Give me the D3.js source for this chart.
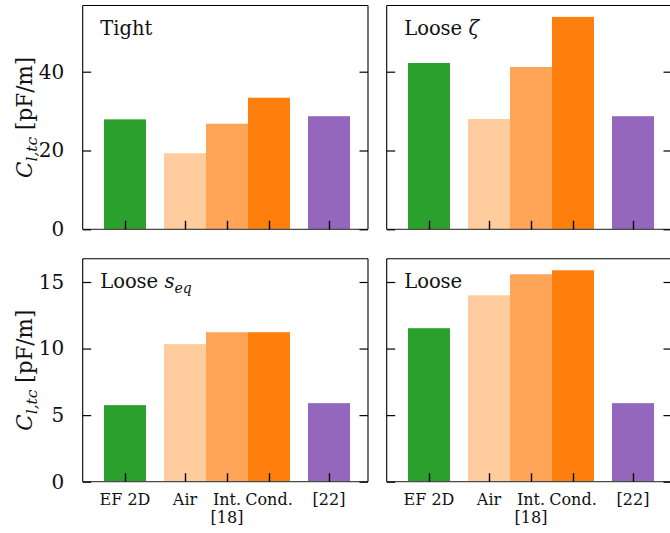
<!DOCTYPE html>
<html><head><meta charset="utf-8">
<script src="https://cdn.jsdelivr.net/npm/d3@7"></script>
<style>
html,body{margin:0;padding:0;background:#fff;}
svg{display:block;}
text{font-family:"DejaVu Serif",serif;fill:#111;}
</style></head>
<body><svg id="chart" width="670" height="533"></svg>
<script>
// ---- data ----
const categories = ["EF 2D", "Air", "Int.|[18]", "Cond.", "[22]"];
const groupOf = [0, 1, 1, 1, 2];          // bar groups (EF 2D | Air, Int., Cond. | [22])
const tight      = [27.9, 19.3, 26.8, 33.4, 28.7];
const looseZeta  = [42.2, 28.0, 41.2, 53.9, 28.7];
const looseSeq   = [5.75, 10.33, 11.23, 11.23, 5.9];
const loose      = [11.53, 14.0, 15.58, 15.88, 5.9];
const topTicks = [0, 20, 40];
const bottomTicks = [0, 5, 10, 15];
const colors = ["#2ca02c", "#ffcc9d", "#ffa558", "#ff7f0e", "#9467bd"];

// ---- layout ----
const barW = 0.7;
// derive x positions: adjacent within a group, 1 unit step between groups
const xPos = [];
categories.forEach((c, i) => {
  if (i === 0) xPos.push(0);
  else xPos.push(xPos[i - 1] + (groupOf[i] === groupOf[i - 1] ? barW : 1));
});

const colX = [[82.7, 368], [386.7, 672]];
const rowY = [[5.5, 229.3], [258.7, 481.7]];
const panels = [
  {title: [["Tight", false]], vals: tight, col: 0, row: 0, ymax: 56.8, ticks: topTicks},
  {title: [["Loose ", false], ["ζ", true]], vals: looseZeta, col: 1, row: 0, ymax: 56.8, ticks: topTicks},
  {title: [["Loose ", false], ["s", true], ["eq", true, "sub"]], vals: looseSeq, col: 0, row: 1, ymax: 16.75, ticks: bottomTicks},
  {title: [["Loose", false]], vals: loose, col: 1, row: 1, ymax: 16.75, ticks: bottomTicks},
];

const svg = d3.select("#chart");
const tickLen = 8.5;

panels.forEach(p => {
  const [x0, x1] = colX[p.col];
  const [y0, y1] = rowY[p.row];
  const x = d3.scaleLinear().domain([-0.705, 4.05]).range([x0, x1]);
  const y = d3.scaleLinear().domain([0, p.ymax]).range([y1, y0]);
  const g = svg.append("g");

  // bars
  g.selectAll("rect.bar").data(p.vals).join("rect")
    .attr("class", "bar")
    .attr("x", (d, i) => x(xPos[i] - barW / 2))
    .attr("width", (d, i) => x(xPos[i] + barW / 2) - x(xPos[i] - barW / 2))
    .attr("y", d => y(d))
    .attr("height", d => y(0) - y(d))
    .attr("fill", (d, i) => colors[i]);

  // frame
  g.append("line").attr("x1", x0).attr("x2", x1).attr("y1", y1).attr("y2", y1)
    .attr("stroke", "#4a4a4a").attr("stroke-width", 1.3);
  g.append("line").attr("x1", x0).attr("x2", x1).attr("y1", y0).attr("y2", y0)
    .attr("stroke", "#000").attr("stroke-width", 1.1);
  g.append("line").attr("x1", x0).attr("x2", x0).attr("y1", y0).attr("y2", y1)
    .attr("stroke", "#000").attr("stroke-width", 1.1);
  g.append("line").attr("x1", x1).attr("x2", x1).attr("y1", y0).attr("y2", y1)
    .attr("stroke", "#000").attr("stroke-width", 1.1);

  // y ticks (inward, both sides)
  const leftAxis = d3.axisLeft(y).tickValues(p.ticks).tickSizeInner(-tickLen).tickSizeOuter(0)
    .tickFormat(p.col === 0 ? d3.format("d") : () => "").tickPadding(10 + tickLen);
  const la = g.append("g").attr("transform", `translate(${x0},0)`).call(leftAxis);
  la.select(".domain").remove();
  la.selectAll(".tick line").attr("stroke", "#000").attr("stroke-width", 1.2);
  la.selectAll(".tick text").attr("font-family", "DejaVu Serif").attr("font-size", 20).attr("fill", "#111");

  const rightAxis = d3.axisRight(y).tickValues(p.ticks).tickSizeInner(-tickLen).tickSizeOuter(0).tickFormat(() => "");
  const ra = g.append("g").attr("transform", `translate(${x1},0)`).call(rightAxis);
  ra.select(".domain").remove();
  ra.selectAll(".tick line").attr("stroke", "#000").attr("stroke-width", 1.2);

  // x ticks (inward) at bar centres
  const bottomAxis = d3.axisBottom(x).tickValues(xPos).tickSizeInner(-tickLen).tickSizeOuter(0).tickFormat(() => "");
  const ba = g.append("g").attr("transform", `translate(0,${y1})`).call(bottomAxis);
  ba.select(".domain").remove();
  ba.selectAll(".tick line").attr("stroke", "#000").attr("stroke-width", 1.4);

  // x tick labels (bottom row only)
  if (p.row === 1) {
    categories.forEach((c, i) => {
      const lines = c.split("|");
      const t = g.append("text").attr("x", x(xPos[i])).attr("y", y1 + 23)
        .attr("text-anchor", "middle").attr("font-size", 16);
      lines.forEach((ln, k) => {
        t.append("tspan").attr("x", x(xPos[i])).attr("dy", k === 0 ? 0 : 18).text(ln);
      });
    });
  }

  // panel title
  const tt = g.append("text").attr("x", x0 + 17.5).attr("y", y0 + 29).attr("font-size", 19.5);
  p.title.forEach(([s, it, sub]) => {
    const ts = tt.append("tspan").text(s);
    if (it) ts.attr("font-style", "italic");
    if (sub) ts.attr("font-size", 14).attr("dy", 5);
  });

  // y label (left column)
  if (p.col === 0) {
    const cy = (y0 + y1) / 2;
    const yl = g.append("text").attr("transform", `translate(32,${cy}) rotate(-90)`)
      .attr("text-anchor", "middle").attr("font-size", 21.5);
    yl.append("tspan").attr("font-style", "italic").text("C");
    yl.append("tspan").attr("font-style", "italic").attr("font-size", 15.5).attr("dy", 5).text("l,tc");
    yl.append("tspan").attr("dy", -5).text(" [pF/m]");
  }
});
</script></body></html>
